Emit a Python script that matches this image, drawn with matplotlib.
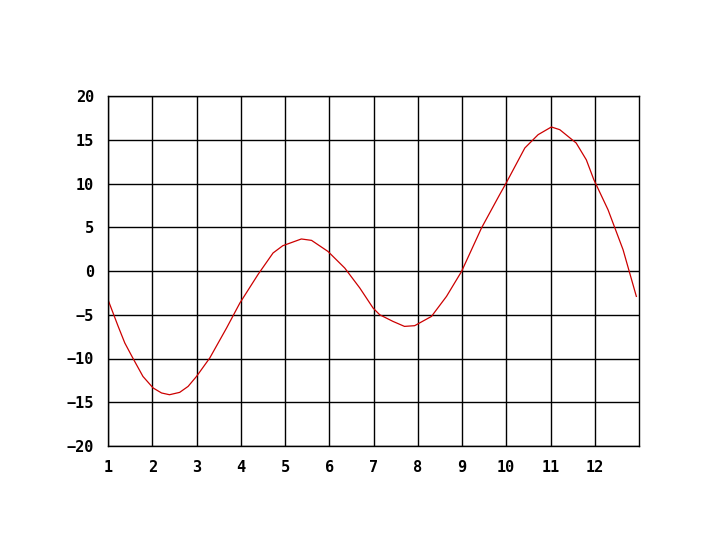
import matplotlib
matplotlib.use("Agg")
import matplotlib.pyplot as plt

x_vals = [1.0, 1.23, 1.38, 1.56, 1.79, 2.02, 2.21, 2.39, 2.62, 2.81, 3.0, 3.3, 3.68,
          3.98, 4.39, 4.73, 4.95, 5.37, 5.6, 5.97, 6.35, 6.69, 6.99, 7.14,
          7.44, 7.7, 7.93, 8.31, 8.65, 8.99, 9.44, 9.85, 9.99, 10.42, 10.72, 11.02,
          11.21, 11.58, 11.81, 11.98, 12.3, 12.64, 12.94]
y_vals = [-3.28, -6.33, -8.23, -9.94, -12.05, -13.37, -13.94, -14.14, -13.87, -13.19, -12.05, -9.94, -6.51,
          -3.66, -0.4, 2.06, 2.89, 3.66, 3.5, 2.24, 0.34, -1.94, -4.23, -5.0,
          -5.76, -6.33, -6.25, -5.19, -2.9, -0.05, 4.91, 8.72, 9.98, 14.06, 15.58, 16.46,
          16.15, 14.63, 12.7, 10.43, 7.0, 2.43, -2.9]
x_ticks = [1, 2, 3, 4, 5, 6, 7, 8, 9, 10, 11, 12]
y_ticks = [-20, -15, -10, -5, 0, 5, 10, 15, 20]

fig = plt.figure(figsize=(7.2, 5.4), dpi=100)
ax = fig.add_axes([108/720, 1 - 446/540, (639-108)/720, (446-96)/540])
ax.plot(x_vals, y_vals, color="#cc0000", linewidth=0.9)
ax.set_xlim(1, 13)
ax.set_ylim(-20, 20)
ax.set_xticks(x_ticks)
ax.set_yticks(y_ticks)
ax.grid(True, color="black", linewidth=1)
ax.set_axisbelow(True)
for s in ax.spines.values():
    s.set_color("black")
    s.set_linewidth(1)
ax.tick_params(length=0, pad=10, labelsize=11)
for lbl in ax.get_xticklabels() + ax.get_yticklabels():
    lbl.set_family("DejaVu Sans Mono")
    lbl.set_weight("bold")
fig.savefig("out.png", dpi=100, facecolor="white")
